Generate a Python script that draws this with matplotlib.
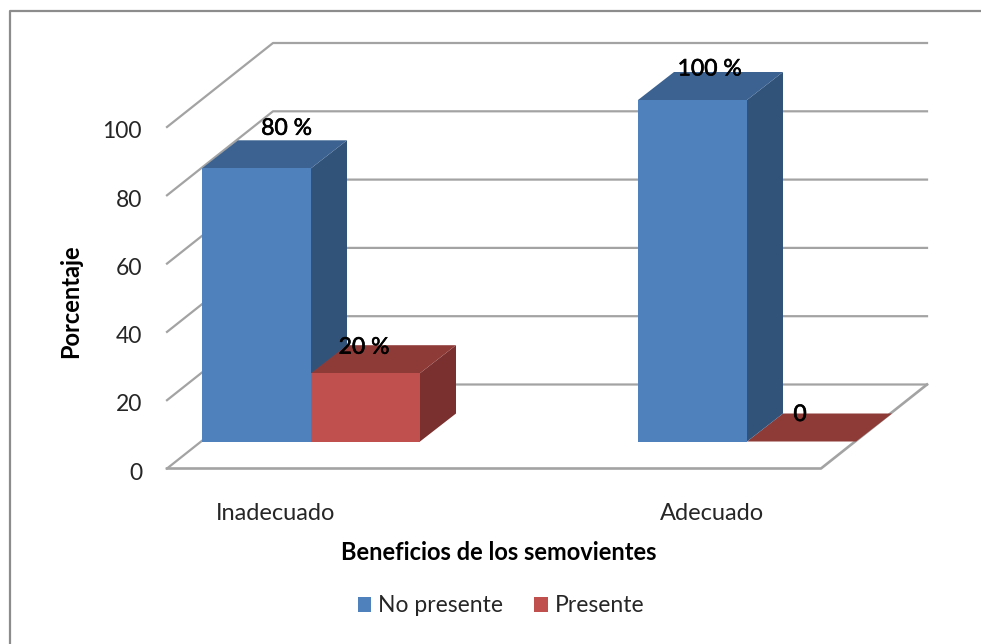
import matplotlib
matplotlib.use("Agg")
import matplotlib.pyplot as plt
import matplotlib.patheffects as pe
from matplotlib.patches import Polygon, Patch
from matplotlib.lines import Line2D
from matplotlib.transforms import ScaledTranslation

categories = ["Inadecuado", "Adecuado"]
no_presente = [80, 100]
presente = [20, 0]
label_no = ["80 %", "100 %"]
label_pre = ["20 %", "0"]
y_ticks = [0, 20, 40, 60, 80, 100]

W, H = 981, 644
plt.rcParams["font.family"] = ["Lato", "DejaVu Sans"]
fig = plt.figure(figsize=(W / 100, H / 100), dpi=100, facecolor="white")

# plot box in pixels
L, R, B, T = 167, 821, 468.5, 127
ax = fig.add_axes([L / W, 1 - B / H, (R - L) / W, (B - T) / H])
ax.set_xlim(-0.25, 1.25)
ax.set_ylim(0, 100)
for s in ax.spines.values():
    s.set_visible(False)
ax.patch.set_alpha(0)

px_x = (R - L) / 1.5
px_y = (B - T) / 100
DX, DY = 106 / px_x, 84 / px_y        # full depth of the floor
BX0, BY0 = 35 / px_x, 27 / px_y       # bars start
BX1, BY1 = 36 / px_x, 28 / px_y       # bar depth
BW = 0.25

GRID = "#A3A3A3"
ax.set_xticks(range(len(categories)), categories)
ax.set_yticks(y_ticks, [str(t) for t in y_ticks])
ax.tick_params(axis="both", length=0, labelcolor="#262626")
ax.tick_params(axis="y", pad=18, labelsize=16.5)
ax.tick_params(axis="x", pad=25, labelsize=17)
for lab in ax.get_yticklabels():
    lab.set_transform(lab.get_transform() + ScaledTranslation(0, -2 / 72, fig.dpi_scale_trans))

x_left, x_right = ax.get_xlim()
for t in y_ticks:
    ax.add_line(Line2D([x_left, x_left + DX, x_right + DX], [t, t + DY, t + DY],
                       color=GRID, lw=1.6, clip_on=False, zorder=1))
ax.add_line(Line2D([x_left, x_right, x_right + DX], [0, 0, DY],
                   color=GRID, lw=1.9, clip_on=False, zorder=1))


def bar3d(x, v, front, top, side, z):
    x0 = x + BX0
    x1 = x0 + BW
    y0 = BY0
    y1 = BY0 + v
    ax.add_patch(Polygon([(x1, y0), (x1 + BX1, y0 + BY1), (x1 + BX1, y1 + BY1), (x1, y1)],
                         fc=side, ec="none", clip_on=False, zorder=z))
    ax.add_patch(Polygon([(x0, y1), (x1, y1), (x1 + BX1, y1 + BY1), (x0 + BX1, y1 + BY1)],
                         fc=top, ec="none", clip_on=False, zorder=z))
    ax.add_patch(Polygon([(x0, y0), (x1, y0), (x1, y1), (x0, y1)],
                         fc=front, ec="none", clip_on=False, zorder=z))


BLUE = ("#4F81BD", "#3B6291", "#31537A")
RED = ("#C0504D", "#8E3B38", "#7A302E")
for i in range(len(categories)):
    bar3d(i - BW, no_presente[i], *BLUE, z=3)
    bar3d(i, presente[i], *RED, z=2 if i == 1 else 4)

# data labels
offs_no = [(30, 40), (17, 31)]
offs_pre = [(-1.5, 26), (-1.5, 27)]
stroke = [pe.withStroke(linewidth=0.45, foreground="black")]
for i in range(len(categories)):
    ax.annotate(label_no[i], (i - BW / 2 + BX0, no_presente[i] + BY0), xytext=offs_no[i],
                textcoords="offset pixels", ha="center", va="center", path_effects=stroke,
                fontsize=16.5, color="black", zorder=6, annotation_clip=False)
    ax.annotate(label_pre[i], (i + BW / 2 + BX0, presente[i] + BY0), xytext=offs_pre[i],
                textcoords="offset pixels", ha="center", va="center", path_effects=stroke,
                fontsize=16.5, color="black", zorder=6, annotation_clip=False)

fig.text(71 / W, 1 - 301 / H, "Porcentaje", rotation=90, ha="center", va="center",
         fontsize=17, fontweight="bold", color="black")
fig.text(499 / W, 1 - 553 / H, "Beneficios de los semovientes", ha="center", va="center",
         fontsize=17, fontweight="bold", color="black")

fig.legend(handles=[Patch(fc=BLUE[0], label="No presente"), Patch(fc=RED[0], label="Presente")],
           loc="center", bbox_to_anchor=(501 / W, 1 - 606 / H), ncol=2, frameon=False,
           fontsize=16.5, handlelength=0.6, handleheight=0.6, handletextpad=0.3,
           columnspacing=1.35, labelcolor="#262626")

# outer frame: left and top edges
fig.add_artist(Line2D([9.5 / W, 9.5 / W, 1], [0, 1 - 10.5 / H, 1 - 10.5 / H],
                      color="#8C8C8C", lw=1.6, transform=fig.transFigure))

fig.savefig("out.png", dpi=100, facecolor="white")
